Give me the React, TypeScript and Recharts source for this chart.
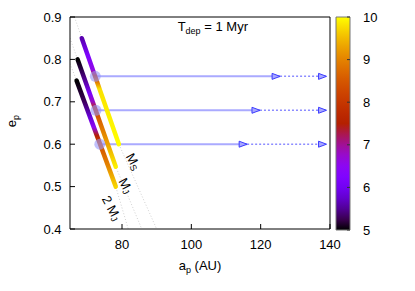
import React from 'react';
import { ComposedChart, Line, Scatter, XAxis, YAxis, BarChart, Bar } from 'recharts';

// ---- data ----
const X_TICKS = [80, 100, 120, 140];
const Y_TICKS = [0.4, 0.5, 0.6, 0.7, 0.8, 0.9];
const CB_TICKS = [5, 6, 7, 8, 9, 10];

const trackMS = [{ a: 68.4, e: 0.85 }, { a: 79.1, e: 0.6 }];
const trackMJ = [{ a: 67.2, e: 0.8 }, { a: 78.2, e: 0.547 }];
const track2MJ = [{ a: 66.9, e: 0.75 }, { a: 78.2, e: 0.5 }];

// time (Myr) read along each track from its colour
const timeMS = [
  { e: 0.85, t: 5.6 }, { e: 0.81, t: 6.2 }, { e: 0.775, t: 6.6 }, { e: 0.762, t: 7.8 },
  { e: 0.745, t: 9.0 }, { e: 0.73, t: 9.8 }, { e: 0.6, t: 10 },
];
const timeMJ = [
  { e: 0.8, t: 5.0 }, { e: 0.76, t: 5.4 }, { e: 0.72, t: 6.2 }, { e: 0.7, t: 6.8 },
  { e: 0.685, t: 7.8 }, { e: 0.66, t: 8.6 }, { e: 0.6, t: 9.3 }, { e: 0.547, t: 9.9 },
];
const time2MJ = [
  { e: 0.75, t: 5.0 }, { e: 0.7, t: 5.3 }, { e: 0.665, t: 5.8 }, { e: 0.64, t: 6.5 },
  { e: 0.62, t: 7.5 }, { e: 0.6, t: 8.4 }, { e: 0.55, t: 9.0 }, { e: 0.5, t: 9.7 },
];

const guideMS = [{ a: 66.3, e: 0.9 }, { a: 68.4, e: 0.85 }, { a: 79.1, e: 0.6 }, { a: 90, e: 0.4 }];
const guideMJ = [{ a: 65, e: 0.85 }, { a: 67.2, e: 0.8 }, { a: 78.2, e: 0.547 }, { a: 85.7, e: 0.4 }];
const guide2MJ = [{ a: 65, e: 0.79 }, { a: 66.9, e: 0.75 }, { a: 78.2, e: 0.5 }, { a: 81.8, e: 0.4 }];

const arrow1Solid = [{ a: 72.3, e: 0.76 }, { a: 125.6, e: 0.76 }];
const arrow1Dash = [{ a: 125.6, e: 0.76 }, { a: 139, e: 0.76 }];
const arrow2Solid = [{ a: 72.5, e: 0.68 }, { a: 119.8, e: 0.68 }];
const arrow2Dash = [{ a: 119.8, e: 0.68 }, { a: 139, e: 0.68 }];
const arrow3Solid = [{ a: 73.6, e: 0.6 }, { a: 116.1, e: 0.6 }];
const arrow3Dash = [{ a: 116.1, e: 0.6 }, { a: 139, e: 0.6 }];

const circles = [{ a: 72.3, e: 0.76 }, { a: 72.5, e: 0.68 }, { a: 73.6, e: 0.6 }];
const heads = [
  { a: 125.6, e: 0.76 }, { a: 139, e: 0.76 },
  { a: 119.8, e: 0.68 }, { a: 139, e: 0.68 },
  { a: 116.1, e: 0.6 }, { a: 139, e: 0.6 },
];
const trackLabels = [
  { a: 83.3, e: 0.559, pre: '', name: 'M', sub: 'S' },
  { a: 81.1, e: 0.502, pre: '', name: 'M', sub: 'J' },
  { a: 77.0, e: 0.449, pre: '2 ', name: 'M', sub: 'J' },
];
const titleData = [{ a: 106.2, e: 0.867 }];
const cbData = [{ k: 'cb', r: [5, 10] }];

// ---- helpers ----
const FONT = '"Liberation Sans", Arial, Helvetica, sans-serif';
const palette = (t: number) => {
  const x = Math.max(0, Math.min(1, (t - 5) / 5));
  const r = Math.sqrt(x);
  const g = x * x * x;
  const b = Math.max(0, Math.sin(2 * Math.PI * x));
  const h = (v: number) => Math.round(v * 255);
  return `rgb(${h(r)},${h(g)},${h(b)})`;
};

const gradStops = (times: { e: number; t: number }[]) => {
  const e0 = times[0].e;
  const e1 = times[times.length - 1].e;
  return times.map((p, i) => (
    <stop key={i} offset={(e0 - p.e) / (e0 - e1)} stopColor={palette(p.t)} />
  ));
};

const headShape = (p: any) => {
  const { cx, cy } = p;
  return (
    <path
      d={`M${cx - 8},${cy - 3} L${cx},${cy} L${cx - 8},${cy + 3} Z`}
      fill="#a8a8ff"
      stroke="#3c3cff"
      strokeWidth={1}
    />
  );
};

const circleShape = (p: any) => (
  <circle cx={p.cx} cy={p.cy} r={5.5} fill="rgba(150,150,250,0.6)" />
);

const labelShape = (p: any) => {
  const { cx, cy, payload } = p;
  return (
    <text
      x={cx}
      y={cy}
      transform={`rotate(62 ${cx} ${cy})`}
      textAnchor="middle"
      dominantBaseline="central"
      fontSize={13}
      fill="#000"
      fontFamily={FONT}
    >
      {payload.pre}
      {payload.name}
      <tspan fontSize={9} dy={3}>{payload.sub}</tspan>
    </text>
  );
};

const titleShape = (p: any) => (
  <text x={p.cx} y={p.cy} textAnchor="middle" fontSize={13} fill="#000" fontFamily={FONT}>
    T<tspan fontSize={9} dy={3}>dep</tspan>
    <tspan dy={-3}> = 1 Myr</tspan>
  </text>
);

const xLabel = (props: any) => {
  const vb = props.viewBox;
  return (
    <text x={vb.x + vb.width / 2} y={vb.y + 41} textAnchor="middle" fontSize={13} fill="#000" fontFamily={FONT}>
      a<tspan fontSize={9} dy={3}>p</tspan>
      <tspan dy={-3}> (AU)</tspan>
    </text>
  );
};

const yLabel = (props: any) => {
  const vb = props.viewBox;
  const cx = 15.5;
  const cy = vb.y + vb.height / 2 - 2;
  return (
    <text x={cx} y={cy} transform={`rotate(-90 ${cx} ${cy})`} textAnchor="middle" fontSize={13} fill="#000" fontFamily={FONT}>
      e<tspan fontSize={9} dy={3}>p</tspan>
    </text>
  );
};

const tickStyle = { fontSize: 13, fill: '#000', fontFamily: FONT };

export default function App() {
  const common = { dot: false, activeDot: false, isAnimationActive: false, type: 'linear' as const };
  return (
    <div style={{ position: 'absolute', left: 0, top: 0, width: 415, height: 291, background: '#fff', fontFamily: FONT }}>
      <div style={{ position: 'absolute', left: 0, top: 0 }}>
        <ComposedChart width={415} height={291} margin={{ top: 16, right: 0, bottom: 32, left: 0 }}>
          <defs>
            <linearGradient id="gMS" x1="0" y1="0" x2="0" y2="1">{gradStops(timeMS)}</linearGradient>
            <linearGradient id="gMJ" x1="0" y1="0" x2="0" y2="1">{gradStops(timeMJ)}</linearGradient>
            <linearGradient id="g2MJ" x1="0" y1="0" x2="0" y2="1">{gradStops(time2MJ)}</linearGradient>
          </defs>
          <XAxis
            dataKey="a"
            type="number"
            domain={[65, 140]}
            ticks={X_TICKS}
            allowDataOverflow
            height={30}
            stroke="#000"
            tick={tickStyle}
            tickSize={-5}
            tickMargin={16}
            label={{ content: xLabel }}
          />
          <XAxis
            xAxisId="top"
            orientation="top"
            type="number"
            domain={[65, 140]}
            ticks={X_TICKS}
            allowDataOverflow
            height={1}
            stroke="#000"
            tick={false}
            tickSize={-5}
          />
          <YAxis
            dataKey="e"
            type="number"
            domain={[0.4, 0.9]}
            ticks={Y_TICKS}
            allowDataOverflow
            width={70}
            stroke="#000"
            tick={tickStyle}
            tickSize={-5}
            tickMargin={13.5}
            tickFormatter={(v: number) => v.toFixed(1)}
            label={{ content: yLabel }}
          />
          <YAxis
            yAxisId="right"
            orientation="right"
            type="number"
            domain={[0.4, 0.9]}
            ticks={Y_TICKS}
            allowDataOverflow
            width={85}
            stroke="#000"
            tick={false}
            tickSize={-5}
          />
          <Line data={guideMS} dataKey="e" stroke="#c4c4c4" strokeWidth={0.8} strokeDasharray="1 2" {...common} />
          <Line data={guideMJ} dataKey="e" stroke="#c4c4c4" strokeWidth={0.8} strokeDasharray="1 2" {...common} />
          <Line data={guide2MJ} dataKey="e" stroke="#c4c4c4" strokeWidth={0.8} strokeDasharray="1 2" {...common} />

          <Line data={arrow1Solid} dataKey="e" stroke="#aaaaff" strokeWidth={2} {...common} />
          <Line data={arrow2Solid} dataKey="e" stroke="#aaaaff" strokeWidth={2} {...common} />
          <Line data={arrow3Solid} dataKey="e" stroke="#aaaaff" strokeWidth={2} {...common} />
          <Line data={arrow1Dash} dataKey="e" stroke="#8c8cff" strokeWidth={1.5} strokeDasharray="2 2" {...common} />
          <Line data={arrow2Dash} dataKey="e" stroke="#8c8cff" strokeWidth={1.5} strokeDasharray="2 2" {...common} />
          <Line data={arrow3Dash} dataKey="e" stroke="#8c8cff" strokeWidth={1.5} strokeDasharray="2 2" {...common} />

          <Scatter data={circles} shape={circleShape} isAnimationActive={false} />

          <Line data={trackMS} dataKey="e" stroke="url(#gMS)" strokeWidth={4.5} strokeLinecap="round" {...common} />
          <Line data={trackMJ} dataKey="e" stroke="url(#gMJ)" strokeWidth={4.5} strokeLinecap="round" {...common} />
          <Line data={track2MJ} dataKey="e" stroke="url(#g2MJ)" strokeWidth={4.5} strokeLinecap="round" {...common} />

          <Scatter data={heads} shape={headShape} isAnimationActive={false} />
          <Scatter data={trackLabels} shape={labelShape} isAnimationActive={false} />
          <Scatter data={titleData} shape={titleShape} isAnimationActive={false} />
        </ComposedChart>
      </div>
      <div style={{ position: 'absolute', left: 0, top: 0 }}>
        <BarChart width={415} height={291} data={cbData} margin={{ top: 17, right: 0, bottom: 61, left: 336 }} barCategoryGap={0}>
          <defs>
            <linearGradient id="gCB" x1="0" y1="1" x2="0" y2="0">
              {Array.from({ length: 21 }, (_, i) => (
                <stop key={i} offset={i / 20} stopColor={palette(5 + (5 * i) / 20)} />
              ))}
            </linearGradient>
          </defs>
          <XAxis dataKey="k" type="category" hide />
          <YAxis
            yAxisId="cbr"
            orientation="right"
            type="number"
            domain={[5, 10]}
            ticks={CB_TICKS}
            width={65}
            axisLine={false}
            stroke="#333"
            tick={tickStyle}
            tickSize={-3}
            tickMargin={16}
          />
          <Bar yAxisId="cbr" dataKey="r" fill="url(#gCB)" stroke="#777" strokeWidth={1} isAnimationActive={false} />
        </BarChart>
      </div>
    </div>
  );
}
